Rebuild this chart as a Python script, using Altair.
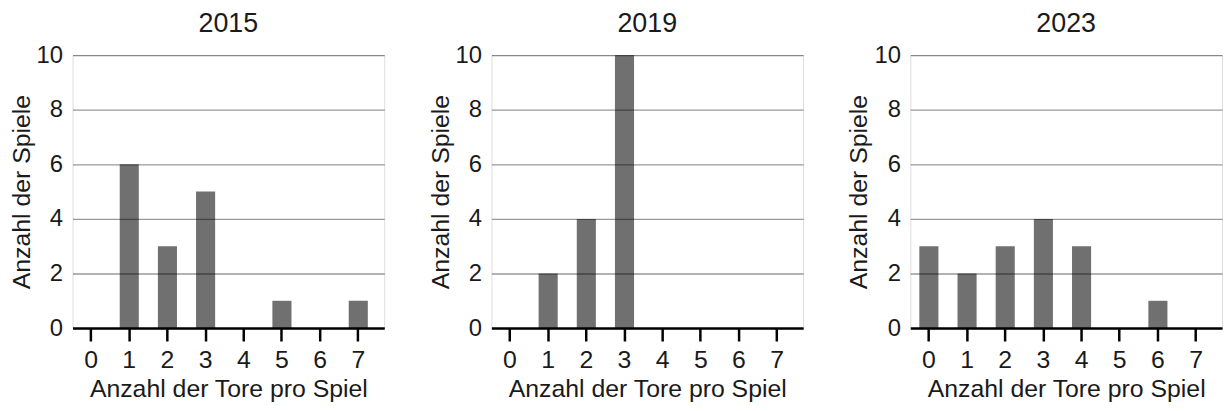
import altair as alt
import pandas as pd

goals = [0, 1, 2, 3, 4, 5, 6, 7]
years = ["2015", "2019", "2023"]
games_2015 = [0, 6, 3, 5, 0, 1, 0, 1]
games_2019 = [0, 2, 4, 10, 0, 0, 0, 0]
games_2023 = [3, 2, 3, 4, 3, 0, 1, 0]
y_ticks = [0, 2, 4, 6, 8, 10]

series = {"2015": games_2015, "2019": games_2019, "2023": games_2023}
FONT = "Liberation Sans"
TXT = "#1a1a1a"


def panel(year):
    df = pd.DataFrame({"tore": goals, "spiele": series[year]})
    return (
        alt.Chart(df, title=alt.TitleParams(year, fontSize=27, font=FONT,
                                            fontWeight="normal", color=TXT,
                                            offset=5))
        .mark_bar(color="#707070")
        .encode(
            x=alt.X("tore:O", sort=goals,
                    scale=alt.Scale(paddingInner=0.5, paddingOuter=0.333,
                                    align=0.355),
                    axis=alt.Axis(title="Anzahl der Tore pro Spiel", labelAngle=0,
                                  labelFontSize=25, titleFontSize=25,
                                  labelFont=FONT, titleFont=FONT,
                                  titleFontWeight="normal", labelColor=TXT,
                                  titleColor=TXT, domainColor="black",
                                  domainWidth=2.5, tickColor="black",
                                  tickWidth=2.5, tickSize=13, labelPadding=7,
                                  titlePadding=4, grid=False, zindex=2)),
            y=alt.Y("spiele:Q",
                    scale=alt.Scale(domain=[0, 10], nice=False),
                    axis=alt.Axis(title="Anzahl der Spiele", values=y_ticks,
                                  labelFontSize=24, titleFontSize=25,
                                  labelFont=FONT, titleFont=FONT,
                                  titleFontWeight="normal", labelColor=TXT,
                                  titleColor=TXT, domain=False, ticks=False,
                                  labelPadding=10, titlePadding=2,
                                  grid=True, gridColor="black",
                                  gridOpacity=0.4, gridWidth=1.3, zindex=1)),
        )
        .properties(width=314, height=275)
    )


chart = (
    alt.hconcat(*[panel(y) for y in years], spacing=42)
    .properties(padding=0)
    .configure_view(stroke=None)
    .configure(background="white")
)

chart.save("out.html", embed_options={"renderer": "svg", "actions": False})
